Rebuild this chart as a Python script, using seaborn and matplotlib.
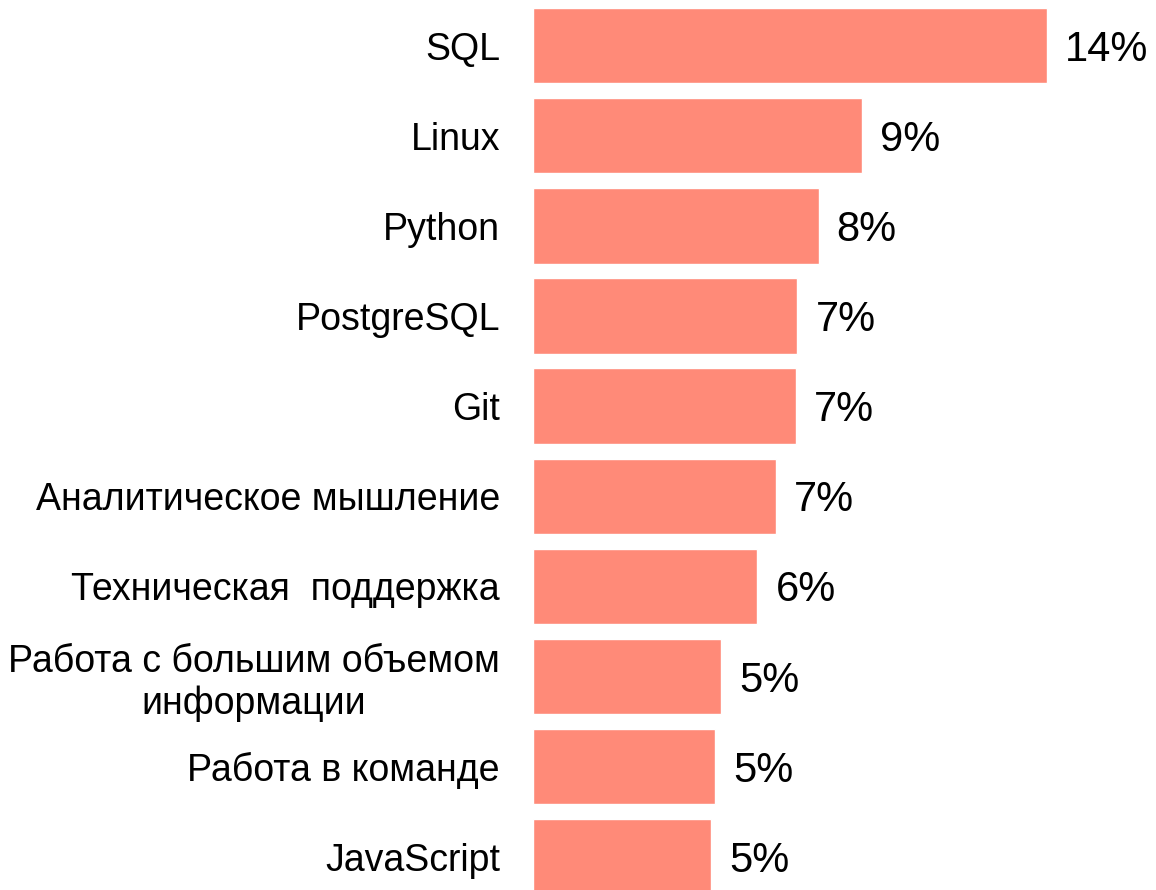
import matplotlib
matplotlib.use("Agg")
import matplotlib.pyplot as plt
import seaborn as sns
import pandas as pd

categories = [
    "SQL",
    "Linux",
    "Python",
    "PostgreSQL",
    "Git",
    "Аналитическое мышление",
    "Техническая  поддержка",
    "Работа с большим объемом\nинформации",
    "Работа в команде",
    "JavaScript",
]
values = [14.0, 8.97, 7.78, 7.2, 7.16, 6.62, 6.11, 5.12, 4.95, 4.84]
value_labels = ["14%", "9%", "8%", "7%", "7%", "7%", "6%", "5%", "5%", "5%"]

df = pd.DataFrame({"skill": categories, "share": values})

sns.set_theme(style="white")
plt.rcParams["font.family"] = ["Liberation Sans", "DejaVu Sans"]

W, H = 1156, 890
fig = plt.figure(figsize=(W / 100, H / 100), dpi=100)
ax_left = 533.3 / W
ax = fig.add_axes([ax_left, 0, 1 - ax_left, 1])

sns.barplot(data=df, y="skill", x="share", orient="h", color="#FF8A78",
            saturation=1, width=0.835, ax=ax)

scale = 36.67  # px per percent
ax.set_xlim(0, (W - 533.3) / scale)
spacing = 90.1
top = -45.7 / spacing
bottom = (H - 45.7) / spacing
ax.set_ylim(bottom, top)

for i, (v, lab) in enumerate(zip(values, value_labels)):
    ax.annotate(lab, xy=(v, i), xytext=(13, -3), textcoords="offset points",
                ha="left", va="center", fontsize=30, color="black")

ax.set_xlabel("")
ax.set_ylabel("")
ax.set_xticks([])
ax.tick_params(axis="y", length=0, pad=24, labelsize=27, colors="black")
for t in ax.get_yticklabels():
    t.set_multialignment("center")
for s in ax.spines.values():
    s.set_visible(False)

fig.savefig("out.png", dpi=100)
